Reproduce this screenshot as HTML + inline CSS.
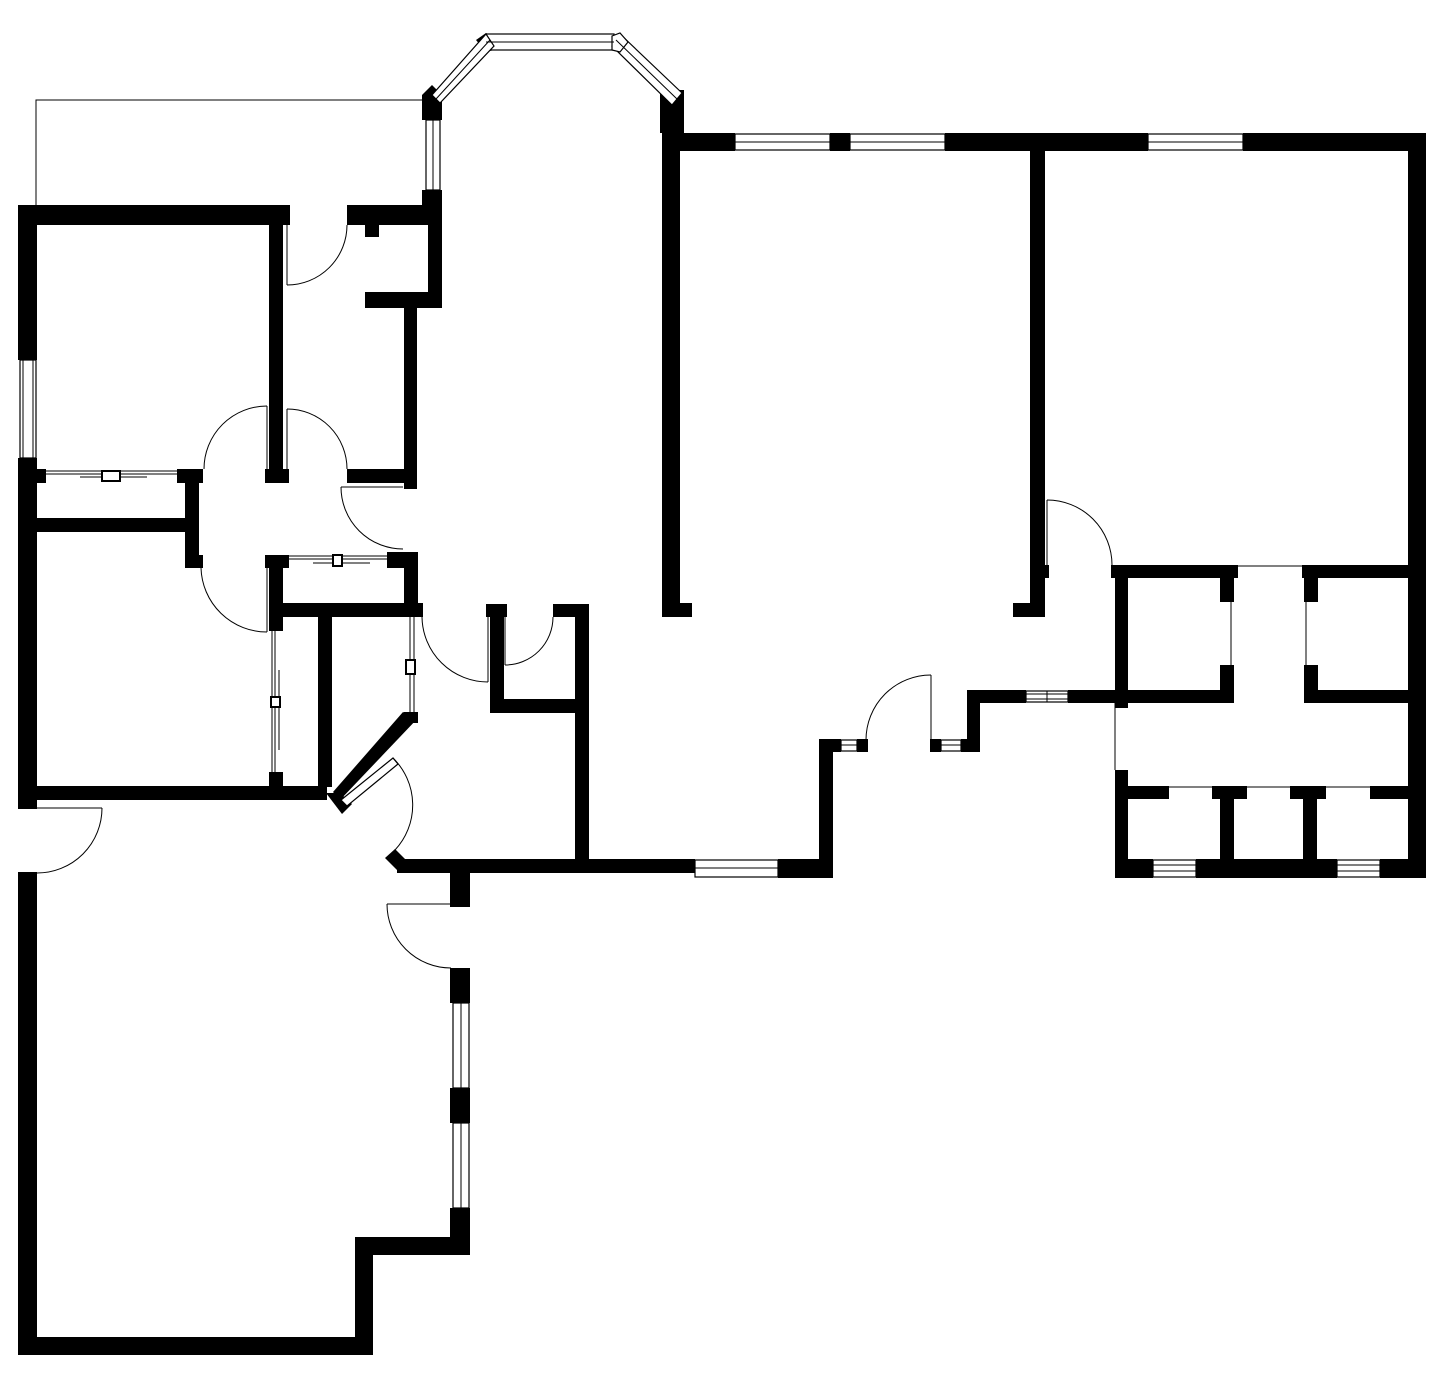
<!DOCTYPE html>
<html><head><meta charset="utf-8"><style>html,body{margin:0;padding:0;background:#fff}svg{display:block}</style></head>
<body>
<svg width="1442" height="1374" viewBox="0 0 1442 1374" xmlns="http://www.w3.org/2000/svg">
<g fill="#000">
<!-- upper left room -->
<rect x="18" y="205" width="272" height="20"/>
<rect x="18" y="205" width="19" height="155"/>
<rect x="18" y="458" width="19" height="351"/>
<rect x="269" y="205" width="14" height="277"/>
<rect x="265" y="469" width="24" height="14"/>
<!-- closet top middle -->
<rect x="347" y="205" width="95" height="20"/>
<rect x="365" y="225" width="14" height="12"/>
<rect x="428" y="190" width="14" height="118"/>
<rect x="422" y="190" width="20" height="35"/>
<rect x="365" y="292" width="77" height="16"/>
<rect x="404" y="308" width="13" height="181"/>
<rect x="347" y="469" width="70" height="14"/>
<!-- left small closet -->
<rect x="37" y="469" width="9" height="14"/>
<rect x="177" y="469" width="26" height="14"/>
<rect x="185" y="469" width="14" height="99"/>
<rect x="185" y="555" width="18" height="13"/>
<rect x="37" y="518" width="148" height="14"/>
<!-- middle closet -->
<rect x="265" y="555" width="24" height="13"/>
<rect x="387" y="552" width="31" height="16"/>
<rect x="269" y="555" width="14" height="76"/>
<rect x="269" y="603" width="154" height="14"/>
<rect x="404" y="552" width="14" height="65"/>
<rect x="269" y="772" width="14" height="15"/>
<rect x="318" y="617" width="14" height="170"/>
<rect x="37" y="786" width="290" height="14"/>
<rect x="404" y="712" width="14" height="11"/>
<polygon points="403,712 418,718 340,800 333,792"/>
<polygon points="326,793 340,793 352,804 342,814"/>
<polygon points="385,858 395,849 405,859 405,873 400,873"/>
<!-- bottom wall of middle -->
<rect x="397" y="859" width="298" height="14"/>
<rect x="778" y="859" width="55" height="19"/>
<rect x="819" y="739" width="14" height="139"/>
<rect x="819" y="739" width="22" height="13"/>
<rect x="857" y="739" width="11" height="13"/>
<rect x="930" y="739" width="11" height="13"/>
<rect x="961" y="739" width="19" height="13"/>
<rect x="967" y="690" width="13" height="62"/>
<rect x="967" y="690" width="59" height="13"/>
<rect x="1068" y="690" width="60" height="13"/>
<!-- center closet -->
<rect x="486" y="604" width="21" height="13"/>
<rect x="490" y="604" width="14" height="109"/>
<rect x="490" y="699" width="99" height="14"/>
<rect x="553" y="604" width="36" height="13"/>
<rect x="575" y="604" width="14" height="269"/>
<!-- lower left room -->
<rect x="18" y="872" width="19" height="483"/>
<rect x="18" y="1337" width="355" height="18"/>
<rect x="355" y="1237" width="18" height="118"/>
<rect x="355" y="1237" width="115" height="18"/>
<rect x="450" y="873" width="20" height="34"/>
<rect x="450" y="968" width="20" height="35"/>
<rect x="450" y="1088" width="20" height="35"/>
<rect x="450" y="1208" width="20" height="47"/>
<!-- big room -->
<rect x="662" y="90" width="18" height="527"/>
<rect x="662" y="603" width="30" height="14"/>
<rect x="660" y="90" width="24" height="43"/>
<rect x="662" y="133" width="73" height="18"/>
<rect x="830" y="133" width="20" height="18"/>
<rect x="945" y="133" width="203" height="18"/>
<rect x="1243" y="133" width="182" height="18"/>
<rect x="1408" y="133" width="18" height="745"/>
<rect x="1030" y="151" width="15" height="466"/>
<rect x="1013" y="603" width="32" height="14"/>
<rect x="1045" y="565" width="4" height="13"/>
<!-- right rooms -->
<rect x="1111" y="565" width="127" height="13"/>
<rect x="1115" y="565" width="13" height="143"/>
<rect x="1115" y="690" width="119" height="13"/>
<rect x="1220" y="578" width="14" height="24"/>
<rect x="1220" y="665" width="14" height="38"/>
<rect x="1302" y="565" width="108" height="13"/>
<rect x="1304" y="578" width="14" height="24"/>
<rect x="1304" y="665" width="14" height="38"/>
<rect x="1304" y="690" width="106" height="13"/>
<rect x="1115" y="770" width="13" height="108"/>
<rect x="1115" y="786" width="54" height="13"/>
<rect x="1212" y="786" width="35" height="13"/>
<rect x="1220" y="786" width="14" height="80"/>
<rect x="1290" y="786" width="36" height="13"/>
<rect x="1303" y="786" width="14" height="80"/>
<rect x="1370" y="786" width="40" height="13"/>
<rect x="1115" y="859" width="38" height="19"/>
<rect x="1196" y="859" width="141" height="19"/>
<rect x="1380" y="859" width="45" height="19"/>
<!-- bay blocks -->
<polygon points="422,95 432,85 442,95 442,120 422,120"/>
<polygon points="476,40 486,33 496,38 494,50 486,52"/>
</g>
<g fill="#fff" stroke="#000" stroke-width="1.2">
<!-- windows -->
<rect x="20" y="360" width="16" height="98"/>
<rect x="735" y="134" width="95" height="16"/>
<rect x="850" y="134" width="95" height="16"/>
<rect x="1148" y="134" width="95" height="16"/>
<rect x="695" y="860" width="83" height="17"/>
<rect x="453" y="1003" width="16" height="85"/>
<rect x="453" y="1123" width="16" height="85"/>
<rect x="1153" y="860" width="43" height="17"/>
<rect x="1337" y="860" width="43" height="17"/>
<rect x="426" y="120" width="14" height="70"/>
<rect x="841" y="740" width="16" height="11"/>
<rect x="941" y="740" width="20" height="11"/>
<rect x="1026" y="691" width="42" height="11"/>
<rect x="486" y="34" width="128" height="16"/>
<polygon points="432,95 486,34 494,46 440,103"/>
<polygon points="620,34 682,93 672,105 612,46"/>
<polygon points="612,36 620,33 628,42 620,52 612,50"/>
<polygon points="341,800 393,758 398,764 347,806"/>
</g>
<g stroke="#000" stroke-width="1" fill="none">
<line x1="23" y1="360" x2="23" y2="458"/><line x1="33" y1="360" x2="33" y2="458"/>
<line x1="735" y1="142" x2="830" y2="142"/><line x1="850" y1="142" x2="945" y2="142"/><line x1="1148" y1="142" x2="1243" y2="142"/>
<line x1="695" y1="868" x2="778" y2="868"/>
<line x1="461" y1="1003" x2="461" y2="1088"/><line x1="461" y1="1123" x2="461" y2="1208"/>
<line x1="1153" y1="865" x2="1196" y2="865"/><line x1="1153" y1="871" x2="1196" y2="871"/>
<line x1="1337" y1="865" x2="1380" y2="865"/><line x1="1337" y1="871" x2="1380" y2="871"/>
<line x1="433" y1="120" x2="433" y2="190"/>
<line x1="486" y1="42" x2="614" y2="42"/>
<line x1="436" y1="99" x2="490" y2="40"/>
<line x1="616" y1="40" x2="677" y2="99"/>
<line x1="841" y1="745" x2="857" y2="745"/><line x1="941" y1="745" x2="961" y2="745"/>
<line x1="1026" y1="694" x2="1068" y2="694"/><line x1="1026" y1="699" x2="1068" y2="699"/><line x1="1047" y1="691" x2="1047" y2="702"/>
<!-- closet sliders -->
<line x1="46" y1="471" x2="177" y2="471"/><line x1="46" y1="474" x2="177" y2="474"/>
<line x1="80" y1="477" x2="147" y2="477"/>
<line x1="289" y1="556" x2="387" y2="556"/><line x1="289" y1="559" x2="387" y2="559"/>
<line x1="313" y1="563" x2="370" y2="563"/>
<line x1="272" y1="631" x2="272" y2="772"/><line x1="275" y1="631" x2="275" y2="772"/><line x1="279" y1="670" x2="279" y2="750"/>
<line x1="410" y1="617" x2="410" y2="712"/><line x1="414" y1="617" x2="414" y2="712"/>
<!-- thin lines -->
<polyline points="36,205 36,100 422,100"/>
<line x1="1238" y1="566" x2="1302" y2="566"/>
<line x1="1231" y1="602" x2="1231" y2="665"/>
<line x1="1306" y1="602" x2="1306" y2="665"/>
<line x1="1115" y1="703" x2="1115" y2="770"/>
<line x1="1169" y1="787" x2="1212" y2="787"/><line x1="1247" y1="787" x2="1290" y2="787"/><line x1="1326" y1="787" x2="1370" y2="787"/>
<!-- doors -->
<line x1="287" y1="225" x2="287" y2="285"/><path d="M287,285 A60,60 0 0 0 347,225"/>
<line x1="267" y1="406" x2="267" y2="469"/><path d="M267,406 A63,63 0 0 0 204,469"/>
<line x1="287" y1="409" x2="287" y2="469"/><path d="M287,409 A60,60 0 0 1 347,469"/>
<line x1="341" y1="487" x2="403" y2="487"/><path d="M341,487 A62,62 0 0 0 403,549"/>
<line x1="267" y1="568" x2="267" y2="632"/><path d="M201,568 A66,66 0 0 0 267,632"/>
<line x1="488" y1="617" x2="488" y2="682"/><path d="M422,617 A66,66 0 0 0 488,682"/>
<line x1="505" y1="617" x2="505" y2="665"/><path d="M505,665 A48,48 0 0 0 553,617"/>
<path d="M393,758 A66,66 0 0 1 395,850"/>
<line x1="37" y1="808" x2="102" y2="808"/><path d="M102,808 A65,65 0 0 1 37,873"/>
<line x1="387" y1="904" x2="450" y2="904"/><path d="M387,904 A64,64 0 0 0 451,968"/>
<line x1="931" y1="675" x2="931" y2="740"/><path d="M866,740 A65,65 0 0 1 931,675"/>
<line x1="1047" y1="500" x2="1047" y2="565"/><path d="M1047,500 A65,65 0 0 1 1112,565"/>
</g>
<g fill="#fff" stroke="#000" stroke-width="2">
<rect x="102" y="471" width="18" height="10"/>
<rect x="333" y="555" width="9" height="11"/>
<rect x="271" y="697" width="9" height="10"/>
<rect x="406" y="660" width="9" height="14"/>
</g>
</svg>
</body></html>
